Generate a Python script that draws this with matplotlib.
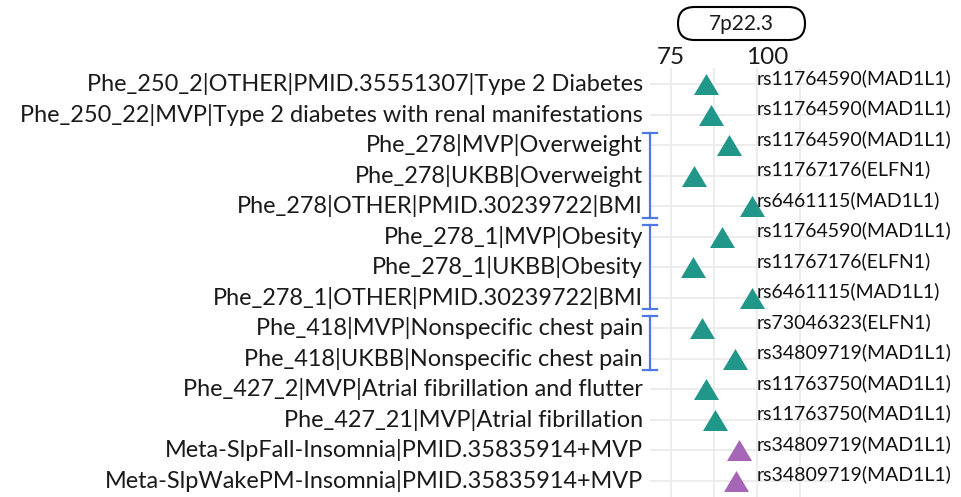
import matplotlib
matplotlib.use("Agg")
import matplotlib.pyplot as plt
from matplotlib.patches import FancyBboxPatch
from matplotlib.transforms import blended_transform_factory

plt.rcParams['font.family'] = ['Lato', 'DejaVu Sans']

phenotypes = [
    "Phe_250_2|OTHER|PMID.35551307|Type 2 Diabetes",
    "Phe_250_22|MVP|Type 2 diabetes with renal manifestations",
    "Phe_278|MVP|Overweight",
    "Phe_278|UKBB|Overweight",
    "Phe_278|OTHER|PMID.30239722|BMI",
    "Phe_278_1|MVP|Obesity",
    "Phe_278_1|UKBB|Obesity",
    "Phe_278_1|OTHER|PMID.30239722|BMI",
    "Phe_418|MVP|Nonspecific chest pain",
    "Phe_418|UKBB|Nonspecific chest pain",
    "Phe_427_2|MVP|Atrial fibrillation and flutter",
    "Phe_427_21|MVP|Atrial fibrillation",
    "Meta-SlpFall-Insomnia|PMID.35835914+MVP",
    "Meta-SlpWakePM-Insomnia|PMID.35835914+MVP",
]
values = [85.1, 86.6, 91.9, 81.7, 98.5, 89.7, 81.3, 98.5, 83.9, 93.6, 85.1, 87.8, 94.9, 93.9]
snps = [
    "rs11764590(MAD1L1)", "rs11764590(MAD1L1)", "rs11764590(MAD1L1)",
    "rs11767176(ELFN1)", "rs6461115(MAD1L1)", "rs11764590(MAD1L1)",
    "rs11767176(ELFN1)", "rs6461115(MAD1L1)", "rs73046323(ELFN1)",
    "rs34809719(MAD1L1)", "rs11763750(MAD1L1)", "rs11763750(MAD1L1)",
    "rs34809719(MAD1L1)", "rs34809719(MAD1L1)",
]
groups = ["gwas"] * 12 + ["meta"] * 2
group_colors = {"gwas": "#21978A", "meta": "#A566B5"}
brackets = [(2, 4), (5, 7), (8, 9)]
strip_label = "7p22.3"
x_ticks = [75, 100]
x_minor = [87.5, 112.5]

W, H, DPI = 961, 497, 100
fig = plt.figure(figsize=(W / DPI, H / DPI), dpi=DPI)

px_left, px_right, px_top, px_bottom = 650, 832, 68, 497
ax = fig.add_axes([px_left / W, 1 - px_bottom / H, (px_right - px_left) / W, (px_bottom - px_top) / H])
ax.set_facecolor("white")
ax.set_xlim(68.9, 121.8)
ax.set_ylim(13.54, -0.525)
for s in ax.spines.values():
    s.set_visible(False)

grid_c = "#EBEBEB"
for xv in x_ticks + x_minor:
    ax.axvline(xv, color=grid_c, lw=1.3, zorder=0)
n = len(phenotypes)
ys = list(range(n))
for y in ys:
    ax.axhline(y, color=grid_c, lw=1.3, zorder=0)

tri = [(-1, -0.84), (1, -0.84), (0, 0.84)]
for y, v, g in zip(ys, values, groups):
    ax.plot([v], [y], marker=tri, ms=18, color=group_colors[g], mec="none", ls="none", zorder=3)

txt_c = "#1A1A1A"
fs_left = 16.9
fs_right = 14.0
ax.set_yticks([])
ax.set_xticks([])
for y, lab in zip(ys, phenotypes):
    ax.annotate(lab, xy=(0, y), xycoords=blended_transform_factory(ax.transAxes, ax.transData),
                xytext=(-7, 0), textcoords="offset pixels", ha="right", va="center",
                fontsize=fs_left, color=txt_c, annotation_clip=False)
for y, lab in zip(ys, snps):
    ax.text(100, y - 0.2, lab, ha="left", va="center", fontsize=fs_right, color="#111111",
            clip_on=False, zorder=4)

tick_nudge = [0, 10]
for xv, nx in zip(x_ticks, tick_nudge):
    ax.annotate(str(xv), xy=(xv, 1), xycoords=blended_transform_factory(ax.transData, ax.transAxes),
                xytext=(nx, 10), textcoords="offset pixels", ha="center", va="center",
                fontsize=17.5, color=txt_c, annotation_clip=False)

bl = "#4D78E6"
btr = blended_transform_factory(ax.transAxes, ax.transData)
dx = 7 / (px_right - px_left)
for a, b in brackets:
    y0, y1 = a - 0.38, b + 0.38
    ax.plot([0, 0], [y0, y1], color=bl, lw=1.6, transform=btr, clip_on=False, zorder=5)
    ax.plot([-dx, dx], [y0, y0], color=bl, lw=1.6, transform=btr, clip_on=False, zorder=5)
    ax.plot([-dx, dx], [y1, y1], color=bl, lw=1.6, transform=btr, clip_on=False, zorder=5)

# strip label box (pixel coordinates converted to inches)
bx0, bx1, by0, by1 = 678, 805, 7, 40
box = FancyBboxPatch((bx0 / DPI, (H - by1) / DPI), (bx1 - bx0) / DPI, (by1 - by0) / DPI,
                     boxstyle="round,pad=0,rounding_size=0.165", transform=fig.dpi_scale_trans,
                     fc="white", ec="black", lw=1.5)
fig.add_artist(box)
fig.text((bx0 + bx1) / 2 / W, 1 - (by0 + by1) / 2 / H, strip_label, ha="center", va="center",
         fontsize=15, color=txt_c)

fig.savefig("out.png", dpi=DPI)
